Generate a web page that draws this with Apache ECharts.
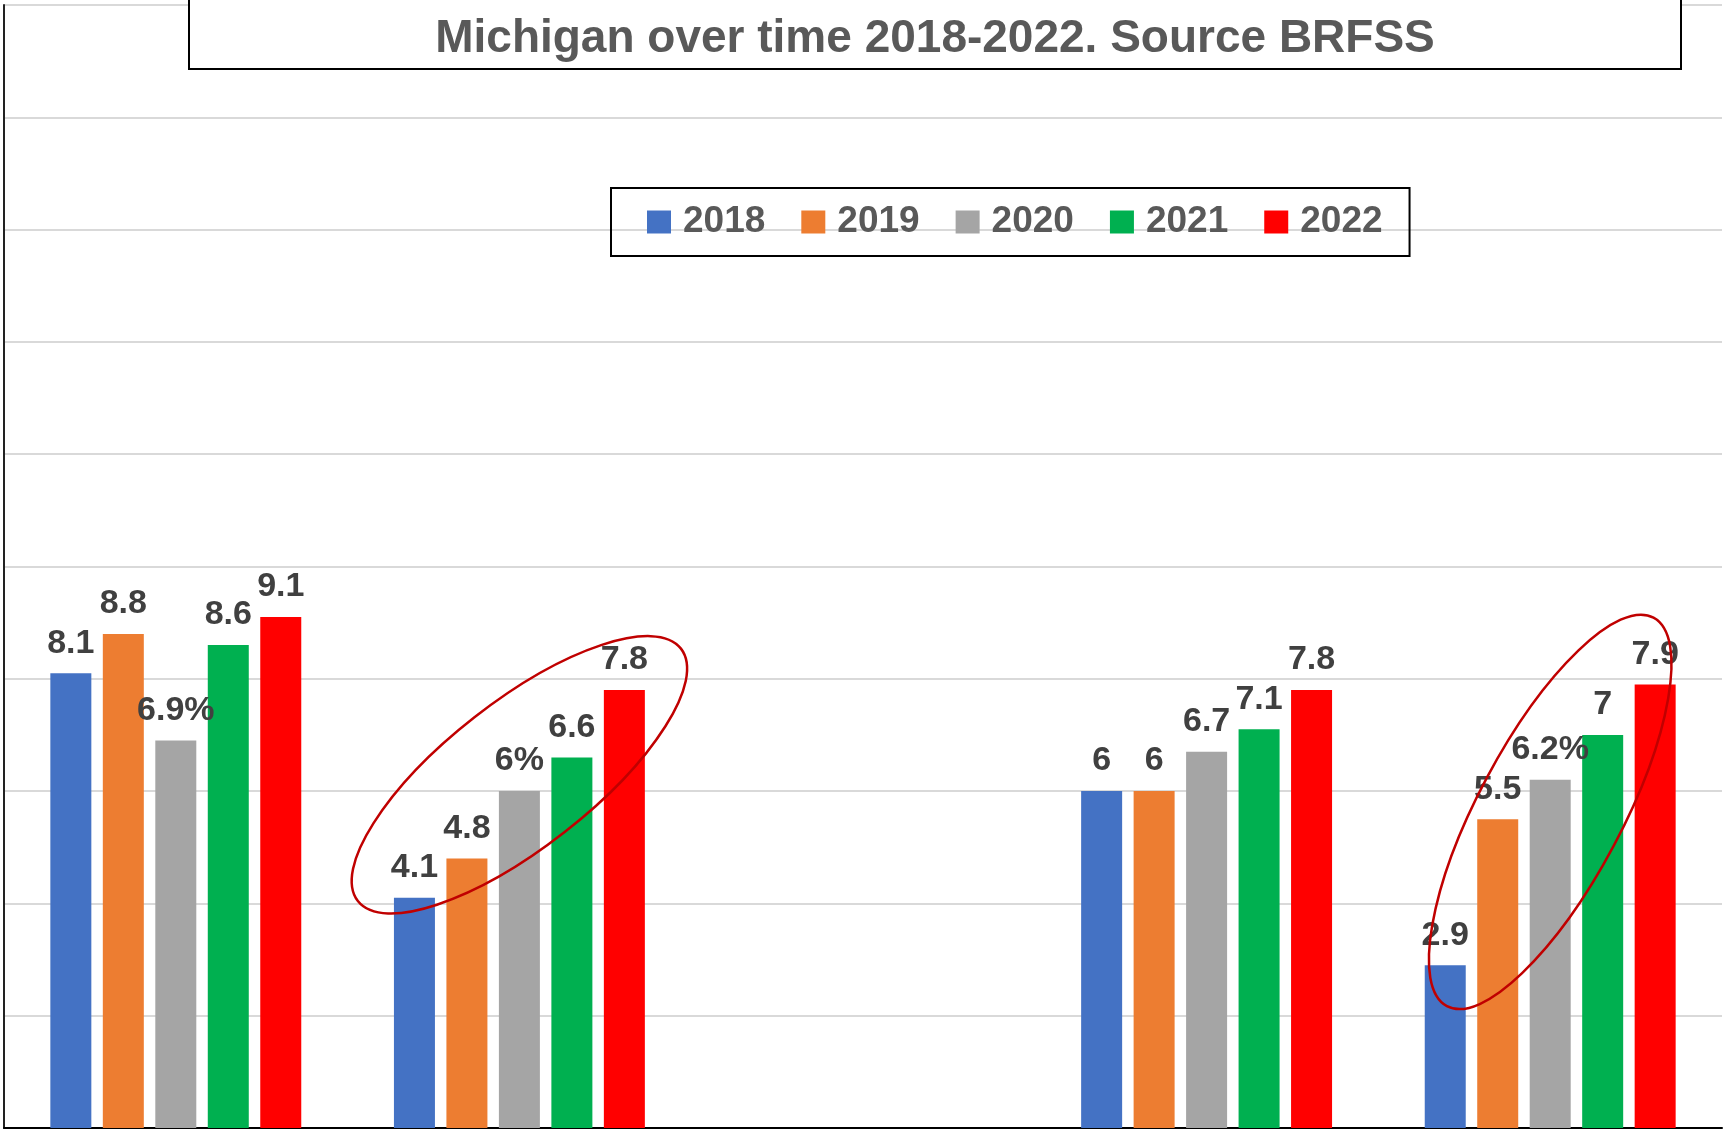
<!DOCTYPE html>
<html>
<head>
<meta charset="utf-8">
<script src="https://cdn.jsdelivr.net/npm/echarts@6/dist/echarts.min.js"></script>
<style>
  html, body { margin: 0; padding: 0; background: #fff; }
  #chart { width: 1723px; height: 1130px; }
</style>
</head>
<body>
<div id="chart"></div>
<script>
// groups (the category names are not visible in the picture, the middle one is empty)
const groups = ['Group 1', 'Group 2', 'Group 3', 'Group 4', 'Group 5'];
const years = ['2018', '2019', '2020', '2021', '2022'];

const v2018 = [8.1, 4.1, '-', 6, 2.9];
const v2019 = [8.8, 4.8, '-', 6, 5.5];
const v2020 = [6.9, 6, '-', 6.7, 6.2];
const v2021 = [8.6, 6.6, '-', 7.1, 7];
const v2022 = [9.1, 7.8, '-', 7.8, 7.9];

// labels that were written with a percent sign
const percentLabels = { '2020': [0, 1, 4] };

const colors = ['#4472c4', '#ed7d31', '#a5a5a5', '#00b050', '#ff0000'];
const yMin = 0, yMax = 20, yStep = 2;

const font = '"Liberation Sans", Arial, sans-serif';
const titleText = 'Michigan over time 2018-2022. Source BRFSS';

const chart = echarts.init(document.getElementById('chart'));

const allValues = [v2018, v2019, v2020, v2021, v2022];

chart.setOption({
  animation: false,
  color: colors,
  grid: { left: 4, right: 1, top: 5, bottom: 2, containLabel: false },
  legend: {
    data: years,
    left: 611,
    top: 188,
    icon: 'rect',
    itemWidth: 24,
    itemHeight: 23,
    itemGap: 36,
    padding: [14, 27, 14, 36],
    borderColor: '#000',
    borderWidth: 2,
    textStyle: {
      fontFamily: font,
      fontSize: 37,
      fontWeight: 'bold',
      color: '#595959',
      padding: [0, 0, 0, 7],
      lineHeight: 40
    }
  },
  xAxis: {
    type: 'category',
    data: groups,
    axisLine: { show: true, lineStyle: { color: '#000', width: 2 } },
    axisTick: { show: false },
    axisLabel: { show: false }
  },
  yAxis: {
    type: 'value',
    min: yMin,
    max: yMax,
    interval: yStep,
    axisLine: { show: true, lineStyle: { color: '#222', width: 2 } },
    axisTick: { show: false },
    axisLabel: { show: false },
    splitLine: { lineStyle: { color: '#d9d9d9', width: 2 } }
  },
  series: years.map((y, i) => ({
    name: y,
    type: 'bar',
    data: allValues[i],
    barWidth: 41,
    barGap: '28%',
    label: {
      show: true,
      position: 'top',
      distance: 13,
      fontFamily: font,
      fontSize: 34,
      fontWeight: 'bold',
      color: '#404040',
      formatter: p => {
        const pct = (percentLabels[p.seriesName] || []).includes(p.dataIndex);
        return p.value + (pct ? '%' : '');
      }
    }
  }))
});

// red ellipses drawn round two of the groups
const rings = [
  { group: groups[1], value: 6.29, rx: 205, ry: 73, angle: 38 },
  { group: groups[4], value: 5.63, rx: 220, ry: 72, angle: 62 }
];

const ringEls = rings.map((r, i) => {
  const c = chart.convertToPixel({ xAxisIndex: 0, yAxisIndex: 0 }, [r.group, r.value]);
  return {
    type: 'ellipse',
    id: 'ring' + i,
    x: c[0],
    y: c[1],
    rotation: r.angle * Math.PI / 180,
    shape: { cx: 0, cy: 0, rx: r.rx, ry: r.ry },
    style: { fill: 'none', stroke: '#c00000', lineWidth: 2.5 },
    z: 100
  };
});

chart.setOption({
  graphic: [
    {
      type: 'rect',
      id: 'titleBox',
      shape: { x: 189, y: -10, width: 1492, height: 79 },
      style: { fill: '#fff', stroke: '#000', lineWidth: 2 },
      z: 90
    },
    {
      type: 'text',
      id: 'titleText',
      x: 935,
      y: 39,
      style: {
        text: titleText,
        font: 'bold 46px ' + font,
        fill: '#595959',
        textAlign: 'center',
        textVerticalAlign: 'middle',
        align: 'center',
        verticalAlign: 'middle'
      },
      z: 91
    },
    ...ringEls
  ]
});
</script>
</body>
</html>
